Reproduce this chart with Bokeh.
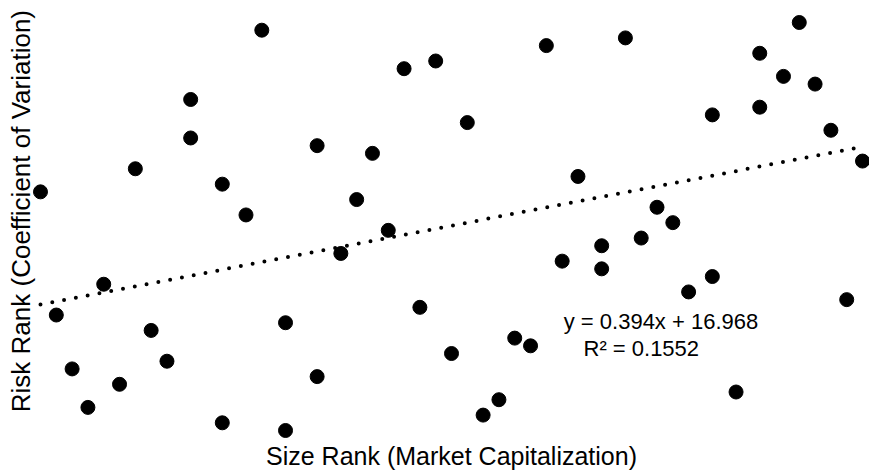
import math
from bokeh.plotting import figure
from bokeh.models import Label
from bokeh.embed import file_html
from bokeh.resources import INLINE

# Size rank (x) and risk rank (y) of each company
x_rank = [1, 2, 3, 4, 5, 6, 7, 8, 9, 10.5, 10.5, 12.5, 12.5, 14, 15, 16.5, 16.5,
          18.5, 18.5, 20, 21, 22, 23, 24, 25, 26, 27, 28, 29, 30, 31, 32, 33, 34,
          35, 36.5, 36.5, 38, 39, 40, 41, 42, 43.5, 43.5, 45, 46.5, 46.5, 48, 49,
          50, 51, 52, 53]
y_rank = [32, 16, 9, 4, 20, 7, 35, 14, 10, 44, 39, 33, 2, 29, 53, 15, 1, 38, 8,
          24, 31, 37, 27, 48, 17, 49, 11, 41, 3, 5, 13, 12, 51, 23, 34, 25, 22,
          52, 26, 30, 28, 19, 21, 42, 6, 50, 43, 47, 54, 46, 40, 18, 36]

# Linear trendline as stated on the chart
slope = 0.394
intercept = 16.968
r_squared = 0.1552

x_title = "Size Rank (Market Capitalization)"
y_title = "Risk Rank (Coefficient of Variation)"
eq_text = "y = 0.394x + 16.968"
r2_text = "R\u00b2 = 0.1552"

FONT = "Liberation Sans"

p = figure(width=869, height=472,
           x_range=(-1.530, 53.442), y_range=(-4.456, 56.858),
           x_axis_type=None, y_axis_type=None,
           output_backend="svg", toolbar_location=None,
           min_border_left=0, min_border_right=0,
           min_border_top=0, min_border_bottom=0)
p.grid.visible = False
p.outline_line_color = None
p.background_fill_color = "white"
p.border_fill_color = "white"

# dotted trendline over the data range
tx = [min(x_rank), max(x_rank)]
ty = [slope * v + intercept for v in tx]
p.line(tx, ty, line_color="black", line_width=4, line_dash="0 12",
       line_cap="round")

p.scatter(x_rank, y_rank, size=14, marker="circle",
          fill_color="black", line_color="black")

# axis titles
p.add_layout(Label(x=27, y=-2.25, text=x_title, text_font=FONT,
                   text_font_size="25px", text_align="center",
                   text_baseline="alphabetic", text_color="black"))
p.add_layout(Label(x=-0.25, y=29.5, text=y_title, text_font=FONT,
                   text_font_size="26px", text_align="center",
                   text_baseline="alphabetic", angle=math.pi / 2,
                   text_color="black"))

# trendline equation
p.add_layout(Label(x=34.1, y=15.2, text=eq_text, text_font=FONT,
                   text_font_size="22px", text_align="left",
                   text_baseline="alphabetic", text_color="black"))
p.add_layout(Label(x=35.35, y=11.7, text=r2_text, text_font=FONT,
                   text_font_size="22px", text_align="left",
                   text_baseline="alphabetic", text_color="black"))

open("out.html", "w").write(file_html(p, INLINE))
